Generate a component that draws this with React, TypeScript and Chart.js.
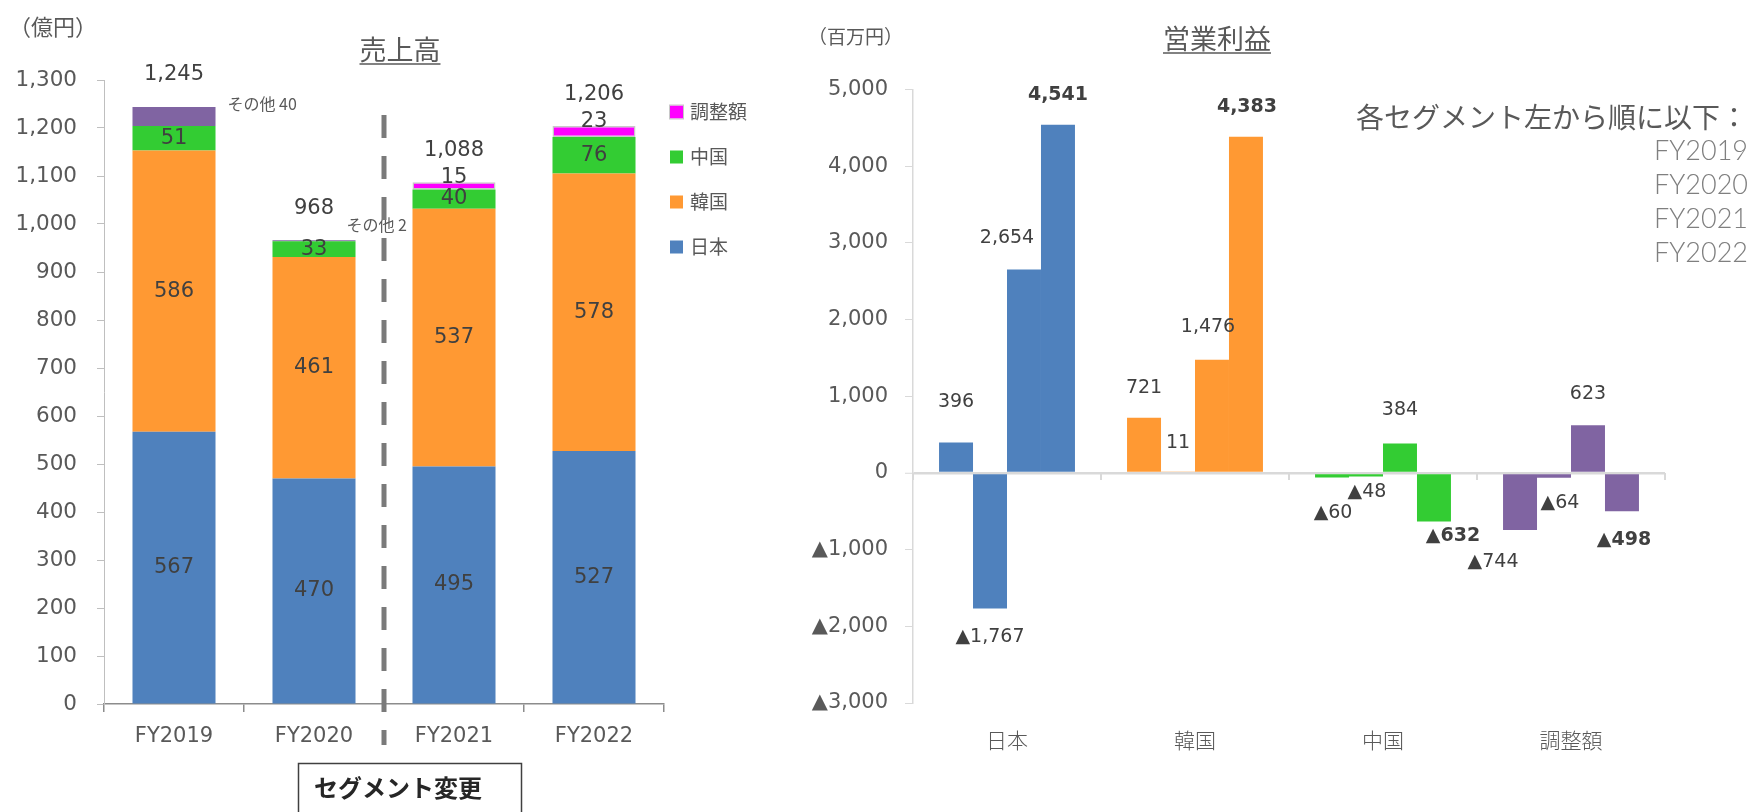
import React, { useEffect, useRef } from 'react';
import { Chart, registerables } from 'chart.js';

Chart.register(...registerables);

// ---------- data: 売上高 (億円) ----------
const years = ['FY2019', 'FY2020', 'FY2021', 'FY2022'];
const salesJapan = [567, 470, 495, 527];
const salesKorea = [586, 461, 537, 578];
const salesChina = [51, 33, 40, 76];
const salesOther = [40, 2, null, null];
const salesAdjust = [null, null, 15, 23];
const salesTotal = [1245, 968, 1088, 1206];

// ---------- data: 営業利益 (百万円) ----------
const segments = ['日本', '韓国', '中国', '調整額'];
const profitFY2019 = [396, 721, -60, -744];
const profitFY2020 = [-1767, 11, -48, -64];
const profitFY2021 = [2654, 1476, 384, 623];
const profitFY2022 = [4541, 4383, -632, -498];

// ---------- styles ----------
const BLUE = '#4F81BD';
const ORANGE = '#FF9933';
const GREEN = '#33CC33';
const PURPLE = '#8064A2';
const MAGENTA = '#FF00FF';
const segColors = [BLUE, ORANGE, GREEN, PURPLE];
const NUM_FONT = "'DejaVu Sans', 'Noto Sans CJK JP', sans-serif";
const CJK_FONT = "'Noto Sans CJK JP', 'DejaVu Sans', sans-serif";
const TEXT = '#595959';
const LABEL = '#404040';

// label nudges (px) for the profit chart: [dx, dy from bar end]
const profitLabelShift = [
  [[0, -41], [0, -30], [1, 36], [-27, 32]],
  [[0, 29], [0, -29], [1, 15], [6, 25]],
  [[-17, -31], [-4, -33], [0, -33], [0, -31]],
  [[0, -30], [1, -30], [19, 15], [2, 29]],
];
const otherLabelShift = [[12, -3], [-9, -15]];

const fmt = (v: number) => (v < 0 ? '▲' : '') + Math.abs(v).toLocaleString('en-US');

const leftDecor = {
  id: 'leftDecor',
  afterDatasetsDraw(chart: any) {
    const { ctx } = chart;
    ctx.save();
    ctx.textAlign = 'center';
    ctx.textBaseline = 'middle';
    ctx.fillStyle = LABEL;
    ctx.font = `21px ${NUM_FONT}`;
    [0, 1, 2].forEach((di) => {
      const meta = chart.getDatasetMeta(di);
      meta.data.forEach((el: any, i: number) => {
        const v = chart.data.datasets[di].data[i];
        if (v == null) return;
        ctx.fillText(String(v), el.x, (el.y + el.base) / 2);
      });
    });
    const adj = chart.getDatasetMeta(4);
    adj.data.forEach((el: any, i: number) => {
      const v = salesAdjust[i];
      if (v == null) return;
      ctx.fillText(String(v), el.x, el.y - 5);
    });
    years.forEach((_, i) => {
      let top = Infinity;
      let x = 0;
      chart.data.datasets.forEach((ds: any, di: number) => {
        if (ds.data[i] == null) return;
        const el = chart.getDatasetMeta(di).data[i];
        top = Math.min(top, el.y, el.base);
        x = el.x;
      });
      ctx.fillText(salesTotal[i].toLocaleString('en-US'), x, top - 32);
    });
    // その他 labels
    ctx.font = `16px ${CJK_FONT}`;
    ctx.fillStyle = TEXT;
    ctx.textAlign = 'left';
    const oth = chart.getDatasetMeta(3);
    oth.data.forEach((el: any, i: number) => {
      const v = salesOther[i];
      if (v == null) return;
      const sh = otherLabelShift[i];
      ctx.fillText('その他 ' + v, el.x + el.width / 2 + sh[0], el.y + sh[1]);
    });
    ctx.restore();
  },
  afterDraw(chart: any) {
    const { ctx } = chart;
    const xs = chart.scales.x;
    ctx.save();
    // segment change dashed line
    const dx = xs.getPixelForValue(1.5);
    ctx.strokeStyle = '#7a7a7a';
    ctx.lineWidth = 5;
    ctx.setLineDash([23, 18]);
    ctx.beginPath();
    ctx.moveTo(dx, 115);
    ctx.lineTo(dx, 745);
    ctx.stroke();
    ctx.setLineDash([]);
    // unit
    ctx.fillStyle = TEXT;
    ctx.font = `22px ${CJK_FONT}`;
    ctx.textAlign = 'left';
    ctx.textBaseline = 'middle';
    ctx.fillText('（億円）', 9, 27);
    // title
    ctx.font = `27px ${CJK_FONT}`;
    ctx.textAlign = 'center';
    ctx.fillText('売上高', 400, 50);
    const tw = ctx.measureText('売上高').width;
    ctx.strokeStyle = TEXT;
    ctx.lineWidth = 1.5;
    ctx.beginPath();
    ctx.moveTo(400 - tw / 2, 64);
    ctx.lineTo(400 + tw / 2, 64);
    ctx.stroke();
    // legend (reverse order, without その他)
    const items = [4, 2, 1, 0].map((di) => chart.data.datasets[di]);
    ctx.font = `19px ${CJK_FONT}`;
    ctx.textAlign = 'left';
    items.forEach((ds: any, k: number) => {
      const y = 112 + 45 * k;
      ctx.fillStyle = ds.backgroundColor;
      ctx.fillRect(670, y - 6.5, 13, 13);
      if (ds.label === '調整額') {
        ctx.strokeStyle = '#c8c8c8';
        ctx.lineWidth = 1;
        ctx.strokeRect(669.5, y - 7, 14, 14);
      }
      ctx.fillStyle = TEXT;
      ctx.fillText(ds.label, 690, y);
    });
    // segment change box
    ctx.strokeStyle = '#404040';
    ctx.lineWidth = 1.5;
    ctx.strokeRect(298.5, 763.5, 223, 70);
    ctx.fillStyle = '#262626';
    ctx.font = `bold 24px ${CJK_FONT}`;
    ctx.fillText('セグメント変更', 314, 788);
    ctx.restore();
  },
};

const rightDecor = {
  id: 'rightDecor',
  afterDatasetsDraw(chart: any) {
    const { ctx } = chart;
    const xs = chart.scales.x;
    const ys = chart.scales.y;
    ctx.save();
    // category ticks on zero line
    const y0 = ys.getPixelForValue(0);
    ctx.strokeStyle = '#d9d9d9';
    ctx.lineWidth = 2;
    for (let i = 0; i <= segments.length; i++) {
      const x = xs.getPixelForValue(i - 0.5);
      ctx.beginPath();
      ctx.moveTo(x, y0);
      ctx.lineTo(x, y0 + 7);
      ctx.stroke();
    }
    // bar labels
    ctx.textAlign = 'center';
    ctx.textBaseline = 'middle';
    ctx.fillStyle = LABEL;
    chart.data.datasets.forEach((ds: any, di: number) => {
      ctx.font = (di === 3 ? 'bold ' : '') + `19px ${NUM_FONT}`;
      chart.getDatasetMeta(di).data.forEach((el: any, i: number) => {
        const v = ds.data[i];
        const sh = profitLabelShift[di][i];
        ctx.fillText(fmt(v), el.x + sh[0], el.y + sh[1]);
      });
    });
    ctx.restore();
  },
  afterDraw(chart: any) {
    const { ctx } = chart;
    ctx.save();
    ctx.fillStyle = TEXT;
    ctx.textBaseline = 'middle';
    ctx.textAlign = 'left';
    ctx.font = `19px ${CJK_FONT}`;
    ctx.fillText('（百万円）', 808, 37);
    ctx.font = `27px ${CJK_FONT}`;
    ctx.textAlign = 'center';
    ctx.fillText('営業利益', 1217, 39);
    const tw = ctx.measureText('営業利益').width;
    ctx.strokeStyle = TEXT;
    ctx.lineWidth = 1.5;
    ctx.beginPath();
    ctx.moveTo(1217 - tw / 2, 53);
    ctx.lineTo(1217 + tw / 2, 53);
    ctx.stroke();
    ctx.textAlign = 'left';
    ctx.font = `28px ${CJK_FONT}`;
    ctx.fillText('各セグメント左から順に以下：', 1356, 117);
    ctx.textAlign = 'right';
    ctx.fillStyle = '#7f7f7f';
    ctx.font = `300 27px Lato, ${CJK_FONT}`;
    years.forEach((y, i) => ctx.fillText(y, 1748, 151 + 34 * i));
    ctx.restore();
  },
};

export default function App() {
  const leftRef = useRef<HTMLCanvasElement>(null);
  const rightRef = useRef<HTMLCanvasElement>(null);

  useEffect(() => {
    Chart.defaults.font.family = NUM_FONT;
    const barStyle = { barPercentage: 0.593, categoryPercentage: 1 };
    const left = new Chart(leftRef.current as HTMLCanvasElement, {
      type: 'bar',
      data: {
        labels: years,
        datasets: [
          { label: '日本', data: salesJapan, backgroundColor: BLUE, ...barStyle },
          { label: '韓国', data: salesKorea, backgroundColor: ORANGE, ...barStyle },
          { label: '中国', data: salesChina, backgroundColor: GREEN, ...barStyle },
          { label: 'その他', data: salesOther as any, backgroundColor: PURPLE, ...barStyle },
          {
            label: '調整額', data: salesAdjust as any, backgroundColor: MAGENTA,
            borderColor: '#c8c8c8', borderWidth: 1.5, borderSkipped: false, ...barStyle,
          },
        ],
      },
      options: {
        responsive: false,
        animation: false,
        devicePixelRatio: 1,
        layout: { padding: { left: 0, top: 80, right: 1088, bottom: 0 } },
        plugins: { legend: { display: false }, tooltip: { enabled: false } },
        scales: {
          x: {
            stacked: true,
            grid: { display: true, drawOnChartArea: false, drawTicks: true, tickLength: 8, color: '#8c8c8c', lineWidth: 1.5 },
            border: { display: true, color: '#8c8c8c', width: 1.5 },
            ticks: { font: { size: 21 }, color: TEXT, padding: 12 },
            afterFit: (s: any) => { s.height = 108; },
          },
          y: {
            stacked: true,
            min: 0,
            max: 1300,
            ticks: { stepSize: 100, font: { size: 21.5 }, color: TEXT, padding: 20, callback: (v: any) => Number(v).toLocaleString('en-US') },
            grid: { drawOnChartArea: false, tickLength: 7, color: '#bfbfbf' },
            border: { color: '#bfbfbf' },
            afterFit: (s: any) => { s.width = 104; },
          },
        },
      } as any,
      plugins: [leftDecor],
    });

    const pStyle = { backgroundColor: segColors, barPercentage: 1, categoryPercentage: 0.723 };
    const right = new Chart(rightRef.current as HTMLCanvasElement, {
      type: 'bar',
      data: {
        labels: segments,
        datasets: [
          { label: 'FY2019', data: profitFY2019, ...pStyle },
          { label: 'FY2020', data: profitFY2020, ...pStyle },
          { label: 'FY2021', data: profitFY2021, ...pStyle },
          { label: 'FY2022', data: profitFY2022, ...pStyle },
        ],
      },
      options: {
        responsive: false,
        animation: false,
        devicePixelRatio: 1,
        layout: { padding: { left: 780, top: 89.5, right: 87, bottom: 0 } },
        plugins: { legend: { display: false }, tooltip: { enabled: false } },
        scales: {
          x: {
            grid: { display: false, drawTicks: false },
            border: { display: false },
            ticks: { font: { size: 21, family: CJK_FONT, weight: '300' }, color: TEXT, padding: 24 },
            afterFit: (s: any) => { s.height = 109; },
          },
          y: {
            min: -3000,
            max: 5000,
            ticks: { stepSize: 1000, font: { size: 21 }, color: TEXT, padding: 17, callback: (v: any) => fmt(Number(v)) },
            grid: {
              drawOnChartArea: true,
              tickLength: 8,
              color: (c: any) => (c.tick && c.tick.value === 0 ? '#d9d9d9' : 'rgba(0,0,0,0)'),
              lineWidth: (c: any) => (c.tick && c.tick.value === 0 ? 2.5 : 1),
              tickColor: '#d9d9d9',
              tickWidth: 1,
            },
            border: { color: '#d9d9d9', width: 1.5 },
            afterFit: (s: any) => { s.width = 133; },
          },
        },
      } as any,
      plugins: [rightDecor],
    });

    return () => {
      left.destroy();
      right.destroy();
    };
  }, []);

  return (
    <div style={{ position: 'fixed', left: 0, top: 0, width: 1752, height: 812, background: '#ffffff', overflow: 'hidden' }}>
      <canvas ref={leftRef} width={1752} height={812} style={{ position: 'absolute', left: 0, top: 0 }} />
      <canvas ref={rightRef} width={1752} height={812} style={{ position: 'absolute', left: 0, top: 0 }} />
    </div>
  );
}
